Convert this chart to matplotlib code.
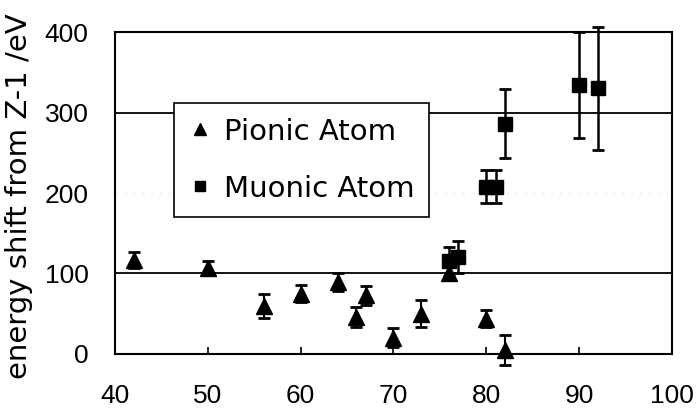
import numpy as np
import matplotlib
matplotlib.use("Agg")
import matplotlib.pyplot as plt
from matplotlib.lines import Line2D

# pionic atom data (Z, shift, error)
pion_z = [42, 50, 56, 60, 64, 66, 67, 70, 73, 76, 80, 82]
pion_shift = [117, 107, 60, 75, 89, 46, 73, 20, 50, 100, 44, 5]
pion_err = [10, 8, 15, 11, 11, 12, 12, 12, 17, 8, 10, 19]

# muonic atom data
muon_z = [76, 77, 80, 81, 82, 90, 92]
muon_shift = [115, 120, 208, 208, 286, 334, 330]
muon_err = [18, 20, 20, 20, 43, 66, 76]

plt.rcParams['font.family'] = ['Liberation Sans', 'DejaVu Sans']

fig = plt.figure(figsize=(6.97, 4.12), dpi=100)
ax = fig.add_axes([0.165, 0.141, 0.799, 0.781])

ax.errorbar(pion_z, pion_shift, yerr=pion_err, fmt='^', color='black',
            ms=11, capsize=4, elinewidth=1.5, capthick=2, zorder=3, clip_on=False)
ax.errorbar(muon_z, muon_shift, yerr=muon_err, fmt='s', color='black',
            ms=9.5, capsize=4, elinewidth=1.8, capthick=2, zorder=3, clip_on=False)

ax.set_xlim(40, 100)
ax.set_ylim(0, 400)
ax.set_xticks(np.arange(40, 101, 10))
ax.set_yticks(np.arange(0, 401, 100))

ax.yaxis.grid(True, color='black', lw=1.3)
for gl, v in zip(ax.yaxis.get_gridlines(), ax.get_yticks()):
    if v == 200:
        gl.set_color('#e8e8e8')
        gl.set_linestyle((0, (2, 6)))
        gl.set_linewidth(0.8)
ax.set_axisbelow(True)

for s in ax.spines.values():
    s.set_linewidth(1.5)

ax.tick_params(axis='x', direction='in', length=5, width=1.2, pad=22, labelsize=19)
ax.tick_params(axis='y', length=0, pad=19, labelsize=19)
ax.set_ylabel('energy shift from Z-1 /eV', fontsize=21, family='DejaVu Sans')
ax.yaxis.set_label_coords(-0.147, 0.49)

handles = [Line2D([], [], marker='^', color='black', ls='none', ms=9),
           Line2D([], [], marker='s', color='black', ls='none', ms=7)]
leg = ax.legend(handles, ['Pionic Atom', 'Muonic Atom'], loc='upper left',
                bbox_to_anchor=(0.106, 0.78), frameon=True,
                prop={'family': 'DejaVu Sans', 'size': 21},
                fancybox=False, edgecolor='black', framealpha=1,
                handlelength=0.8, handletextpad=0.4, labelspacing=1.0,
                borderpad=0.5, borderaxespad=0)
leg.get_frame().set_linewidth(1.2)

fig.savefig('out.png', dpi=100)
